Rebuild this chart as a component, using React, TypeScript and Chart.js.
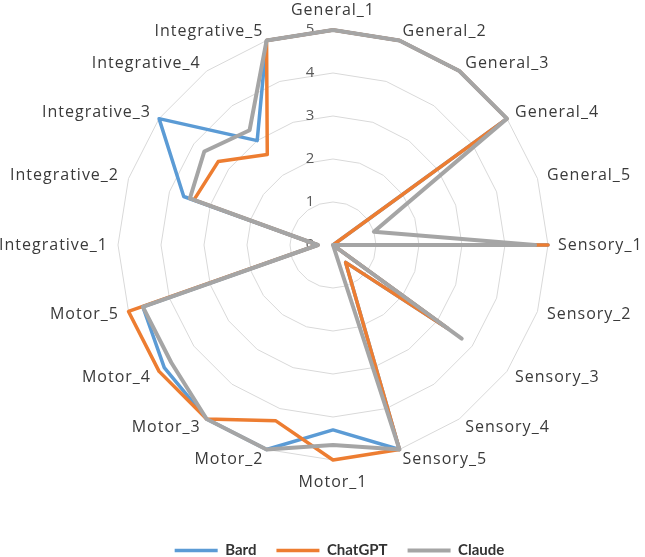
import React, { useEffect, useRef } from "react";
import { Chart, registerables } from "chart.js";

Chart.register(...registerables);

const categories = [
  "General_1", "General_2", "General_3", "General_4", "General_5",
  "Sensory_1", "Sensory_2", "Sensory_3", "Sensory_4", "Sensory_5",
  "Motor_1", "Motor_2", "Motor_3", "Motor_4", "Motor_5",
  "Integrative_1", "Integrative_2", "Integrative_3", "Integrative_4", "Integrative_5",
];

const bard = [
  5, 5, 5, 5, 0,
  5, 0, 3.3, 0.5, 5,
  4.3, 5, 5, 4.85, 4.65,
  0.35, 3.65, 5, 3.0, 5,
];
const chatgpt = [
  5, 5, 5, 5, 0,
  5, 0, 3.3, 0.5, 5,
  5, 4.3, 5, 5, 5,
  0.35, 3.4, 3.3, 2.6, 5,
];
const claude = [
  5, 5, 5, 5, 1,
  4.7, 0, 3.7, 0, 5,
  4.65, 5, 5, 4.65, 4.65,
  0.35, 3.5, 3.7, 3.3, 5,
];

const seriesNames = ["Bard", "ChatGPT", "Claude"];
const seriesColors = ["#5B9BD5", "#ED7D31", "#A5A5A5"];

const CENTER_X = 333;
const CENTER_Y = 245;
const RADIUS = 215;

const labelPlugin = {
  id: "customLabels",
  beforeDatasetsDraw(chart: any) {
    const s = chart.scales.r;
    const ctx = chart.ctx;
    ctx.save();
    ctx.font = '15px "Open Sans"';
    ctx.fillStyle = "#595959";
    ctx.textAlign = "center";
    ctx.textBaseline = "middle";
    s.ticks.forEach((t: any) => {
      const r = s.getDistanceFromCenterForValue(t.value);
      ctx.fillText(String(t.label ?? t.value), s.xCenter - 23, s.yCenter - r);
    });
    ctx.restore();
  },
  afterDatasetsDraw(chart: any) {
    const s = chart.scales.r;
    const ctx = chart.ctx;
    ctx.save();
    ctx.font = '16px "Open Sans"';
    try { (ctx as any).letterSpacing = "1px"; } catch (e) {}
    ctx.fillStyle = "#3A3A3A";
    ctx.textBaseline = "middle";
    const labels = chart.data.labels as string[];
    labels.forEach((lab, i) => {
      const a = s.getIndexAngle(i);
      const sx = Math.sin(a);
      const cy = Math.cos(a);
      let d = 10;
      if (Math.abs(sx) < 0.01) {
        ctx.textAlign = "center";
        d = cy > 0 ? 20 : 22;
      } else {
        ctx.textAlign = sx > 0 ? "left" : "right";
      }
      const p = s.getPointPosition(i, s.drawingArea + d);
      ctx.fillText(lab, p.x, p.y);
    });
    ctx.restore();
  },
};

export default function App() {
  const ref = useRef<HTMLCanvasElement | null>(null);
  useEffect(() => {
    if (!ref.current) return;
    const values = [bard, chatgpt, claude];
    const chart = new Chart(ref.current, {
      type: "radar",
      data: {
        labels: categories,
        datasets: values.map((v, i) => ({
          label: seriesNames[i],
          data: v,
          borderColor: seriesColors[i],
          backgroundColor: seriesColors[i],
          borderWidth: i === 2 ? 4 : 3.5,
          borderJoinStyle: "round",
          borderCapStyle: "round",
          fill: false,
          pointRadius: 0,
          pointHoverRadius: 0,
          tension: 0,
          order: 3 - i,
        })),
      },
      options: {
        responsive: false,
        animation: false,
        layout: { padding: { left: 34, right: 0, top: 0, bottom: -11 } },
        plugins: {
          tooltip: { enabled: false },
          legend: {
            position: "bottom",
            labels: {
              usePointStyle: true,
              pointStyle: "line",
              pointStyleWidth: 43,
              padding: 20,
              color: "#333333",
              font: { family: "Lato", size: 15, weight: "bold" },
              sort: (a: any, b: any) => a.datasetIndex - b.datasetIndex,
            },
          },
        },
        scales: {
          r: {
            min: 0,
            max: 5,
            ticks: { display: false, stepSize: 1 },
            pointLabels: { display: false },
            angleLines: { display: false },
            grid: { color: "#D9D9D9", lineWidth: 1 },
            afterFit: (s: any) => {
              s.xCenter = CENTER_X;
              s.yCenter = CENTER_Y;
              s.drawingArea = RADIUS;
            },
          },
        },
      },
      plugins: [labelPlugin],
    } as any);
    return () => chart.destroy();
  }, []);
  return (
    <div style={{ position: "absolute", left: 0, top: 0, width: 645, height: 557, background: "#fff" }}>
      <canvas ref={ref} width={645} height={557} style={{ width: 645, height: 557, display: "block" }} />
    </div>
  );
}
